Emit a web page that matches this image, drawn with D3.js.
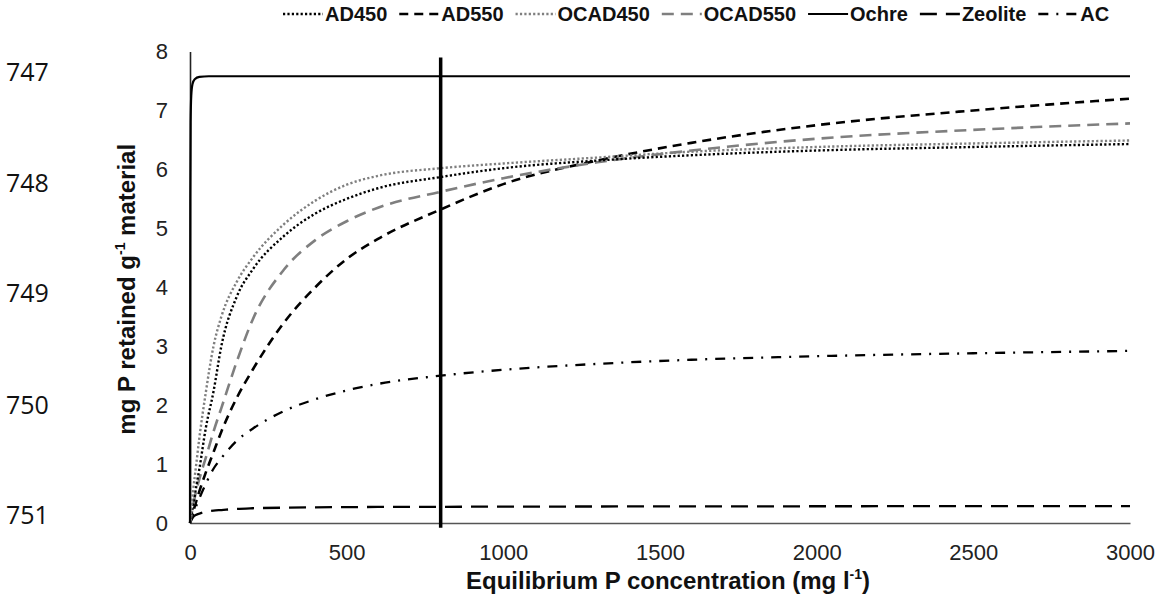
<!DOCTYPE html>
<html>
<head>
<meta charset="utf-8">
<script src="https://cdn.jsdelivr.net/npm/d3@7"></script>
<style>
  html, body { margin: 0; padding: 0; background: #fff; }
  svg { display: block; }
</style>
</head>
<body>
<svg id="chart" width="1169" height="599"></svg>
<script>
// ---- data ----
const concX   = [0, 10, 20, 30, 50, 75, 100, 150, 200, 300, 400, 500, 600, 800, 1000, 1300, 1600, 2000, 2500, 3000];
const AD450   = [0, 0.30, 0.62, 0.92, 1.60, 2.23, 3.00, 3.85, 4.30, 4.87, 5.25, 5.50, 5.68, 5.87, 6.02, 6.15, 6.24, 6.32, 6.38, 6.43];
const AD550   = [0, 0.19, 0.37, 0.54, 0.85, 1.20, 1.55, 2.13, 2.60, 3.40, 4.00, 4.48, 4.82, 5.32, 5.75, 6.15, 6.45, 6.75, 7.00, 7.20];
const OCAD450 = [0, 0.55, 1.00, 1.45, 2.20, 3.00, 3.50, 4.10, 4.50, 5.07, 5.47, 5.74, 5.89, 6.02, 6.10, 6.20, 6.30, 6.38, 6.44, 6.49];
const OCAD550 = [0, 0.30, 0.55, 0.75, 1.10, 1.55, 1.95, 2.75, 3.45, 4.30, 4.80, 5.12, 5.35, 5.62, 5.85, 6.12, 6.32, 6.52, 6.67, 6.78];
const Zeolite = [0, 0.10, 0.14, 0.16, 0.19, 0.21, 0.22, 0.24, 0.25, 0.26, 0.265, 0.27, 0.272, 0.275, 0.278, 0.28, 0.282, 0.284, 0.286, 0.288];
const AC      = [0, 0.15, 0.29, 0.42, 0.66, 0.92, 1.10, 1.40, 1.60, 1.90, 2.10, 2.25, 2.36, 2.50, 2.60, 2.70, 2.77, 2.83, 2.88, 2.92];
const ochreX  = [0, 1, 2, 4, 8, 15, 30, 60, 200, 1000, 2000, 3000];
const Ochre   = [0, 5.5, 6.8, 7.25, 7.45, 7.53, 7.57, 7.58, 7.58, 7.58, 7.58, 7.58];
const thresholdX = 800;
const thresholdY = [-0.08, 7.9];
const xTicks = [0, 500, 1000, 1500, 2000, 2500, 3000];
const yTicks = [0, 1, 2, 3, 4, 5, 6, 7, 8];
const seriesNames = ["AD450", "AD550", "OCAD450", "OCAD550", "Ochre", "Zeolite", "AC"];
const lineNumbers = ["747", "748", "749", "750", "751"];

// ---- styles ----
const styles = {
  AD450:   { color: "#000",    width: 2.4, dash: "2.2,2.2" },
  AD550:   { color: "#000",    width: 2.6, dash: "9,6" },
  OCAD450: { color: "#7f7f7f", width: 2.4, dash: "2.2,2.2" },
  OCAD550: { color: "#7f7f7f", width: 2.6, dash: "12,7" },
  Ochre:   { color: "#000",    width: 2.2, dash: null },
  Zeolite: { color: "#000",    width: 2.3, dash: "17,9" },
  AC:      { color: "#000",    width: 2.3, dash: "10,8,2,8" }
};
const seriesData = {
  AD450:   concX.map((v, i) => [v, AD450[i]]),
  AD550:   concX.map((v, i) => [v, AD550[i]]),
  OCAD450: concX.map((v, i) => [v, OCAD450[i]]),
  OCAD550: concX.map((v, i) => [v, OCAD550[i]]),
  Ochre:   ochreX.map((v, i) => [v, Ochre[i]]),
  Zeolite: concX.map((v, i) => [v, Zeolite[i]]),
  AC:      concX.map((v, i) => [v, AC[i]])
};

(function () {
const svg = d3.select("#chart");
const mLeft = 190, mRight = 1130, mTop = 51.5, mBottom = 523;
const x = d3.scaleLinear().domain([0, 3000]).range([mLeft, mRight]);
const y = d3.scaleLinear().domain([0, 8]).range([mBottom, mTop]);

// page line numbers
const lnY = [72, 183, 293, 405, 515];
svg.append("g").selectAll("text").data(lineNumbers).join("text")
  .attr("x", 6).attr("y", (d, i) => lnY[i]).attr("dy", "0.35em")
  .attr("font-family", "Open Sans, Liberation Sans, sans-serif")
  .attr("font-size", 25).attr("fill", "#111").text(d => d);

// axes
const xAxis = svg.append("g").attr("transform", `translate(0,${mBottom})`)
  .call(d3.axisBottom(x).tickValues(xTicks).tickSize(0).tickPadding(21).tickFormat(d3.format("d")));
const yAxis = svg.append("g").attr("transform", `translate(${mLeft},0)`)
  .call(d3.axisLeft(y).tickValues(yTicks).tickSize(0).tickPadding(22));
[xAxis, yAxis].forEach(g => {
  g.selectAll("text").attr("font-family", "Liberation Sans, Arial, sans-serif").attr("font-size", 22).attr("fill", "#222");
});
xAxis.select(".domain").attr("stroke", "#555").attr("stroke-width", 1.6);
yAxis.select(".domain").attr("stroke", "#222").attr("stroke-width", 1.6);

// series lines
const line = d3.line().x(d => x(d[0])).y(d => y(d[1])).curve(d3.curveMonotoneX);
const plot = svg.append("g");
["Zeolite", "AC", "AD550", "OCAD550", "AD450", "OCAD450", "Ochre"].forEach(name => {
  const s = styles[name];
  plot.append("path").datum(seriesData[name])
    .attr("fill", "none").attr("stroke", s.color).attr("stroke-width", s.width)
    .attr("stroke-dasharray", s.dash).attr("d", line);
});

// vertical threshold line
svg.append("line")
  .attr("x1", x(thresholdX)).attr("x2", x(thresholdX))
  .attr("y1", y(thresholdY[0])).attr("y2", y(thresholdY[1]))
  .attr("stroke", "#000").attr("stroke-width", 3.5);

// axis titles
const xt = svg.append("text").attr("x", (mLeft + mRight) / 2 + 8).attr("y", 589)
  .attr("text-anchor", "middle").attr("font-family", "Liberation Sans, Arial, sans-serif")
  .attr("font-weight", "bold").attr("font-size", 24).attr("fill", "#111");
xt.append("tspan").text("Equilibrium P concentration (mg l");
xt.append("tspan").attr("font-size", 14).attr("dy", -10).text("-1");
xt.append("tspan").attr("dy", 10).text(")");

const yt = svg.append("text")
  .attr("transform", `translate(135,${(mTop + mBottom) / 2 + 2}) rotate(-90)`)
  .attr("text-anchor", "middle").attr("font-family", "Liberation Sans, Arial, sans-serif")
  .attr("font-weight", "bold").attr("font-size", 24).attr("fill", "#111");
yt.append("tspan").text("mg P retained g");
yt.append("tspan").attr("font-size", 14).attr("dy", -10).text("-1");
yt.append("tspan").attr("dy", 10).text(" material");

// legend
const legend = svg.append("g");
let lx = 283;
const symLen = 40, ly = 14;
seriesNames.forEach(name => {
  const s = styles[name];
  legend.append("line").attr("x1", lx).attr("x2", lx + symLen).attr("y1", ly).attr("y2", ly)
    .attr("stroke", s.color).attr("stroke-width", s.width).attr("stroke-dasharray", s.dash);
  const t = legend.append("text").attr("x", lx + symLen + 2).attr("y", ly).attr("dy", "0.35em")
    .attr("font-family", "Liberation Sans, Arial, sans-serif").attr("font-weight", "bold")
    .attr("font-size", 20).attr("fill", "#111").text(name);
  lx += symLen + 2 + t.node().getComputedTextLength() + 12;
});
})();
</script>
</body>
</html>
